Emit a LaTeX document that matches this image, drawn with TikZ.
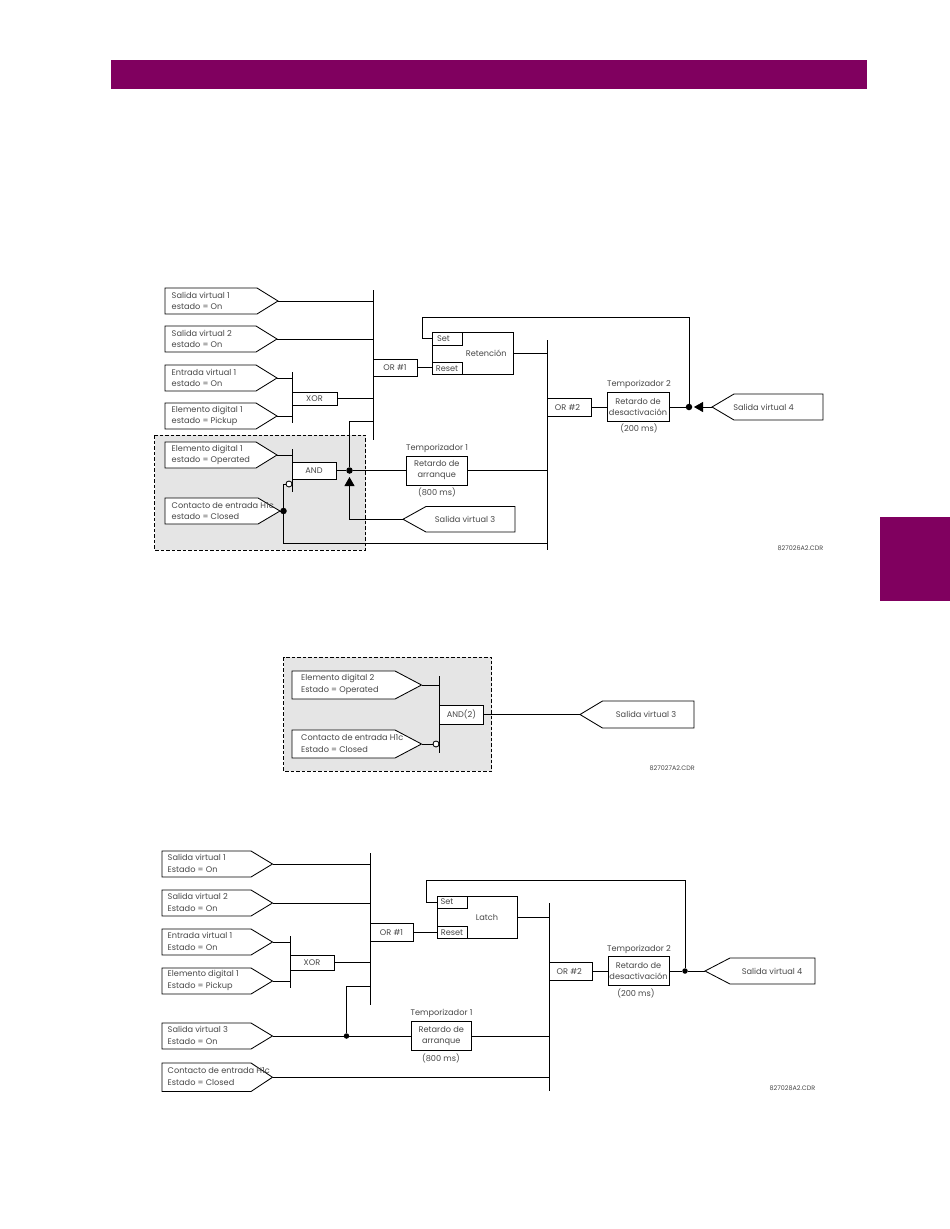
\documentclass[tikz,border=0pt]{standalone}
\usepackage{fontspec}
\setmainfont{Poppins}
\usetikzlibrary{arrows.meta,calc}
\definecolor{ge}{HTML}{80005F}
\definecolor{txt}{HTML}{484848}
\definecolor{shade}{HTML}{E5E5E5}
\def\flagskip{11}
\def\flaginset{6.5}
\tikzset{
  wire/.style={line width=0.85pt,black},
  busbar/.style={line width=1pt,black},
  lbl/.style={font=\fontsize{8.2}{11}\selectfont,text=txt,inner sep=0pt,align=center},
  code/.style={font=\fontsize{6.4}{7}\selectfont,text=txt,inner sep=0pt,anchor=east},
  gatebox/.style={draw=black,line width=0.85pt,fill=white,inner sep=0pt,outer sep=0pt,text=txt,font=\fontsize{8.2}{11}\selectfont,align=center},
  flag/.style={draw=black,line width=0.85pt,fill=white,line join=miter},
  flagtext/.style={font=\fontsize{8.2}{\flagskip}\selectfont,text=txt,inner sep=0pt,anchor=west,align=left},
  dotj/.style={circle,fill=black,inner sep=0pt,minimum size=6.5pt},
  bubble/.style={circle,draw=black,line width=0.85pt,fill=white,inner sep=0pt,minimum size=6pt},
  region/.style={draw=black,dashed,line width=0.8pt,fill=shade,dash pattern=on 3.5pt off 2pt},
  head/.style={-{Triangle[length=9pt,width=10pt]}}
}
% box by corners: name,x1,y1,x2,y2,text
\newcommand{\bx}[6]{\node[gatebox,minimum width=#4pt-#2pt,minimum height=#5pt-#3pt] (#1) at ({(#2+#4)/2},{(#3+#5)/2}) {#6};}
% input flag: name,xleft,ytop,ybot,xshoulder,xtip,text
\newcommand{\inflag}[7]{\draw[flag] (#2,#3)--(#5,#3)--(#6,{(#3+#4)/2})--(#5,#4)--(#2,#4)--cycle;
  \coordinate (#1-tip) at (#6,{(#3+#4)/2});
  \node[flagtext] (#1) at (#2+\flaginset,{(#3+#4)/2-0.5}) {#7};}
% output flag: name,xtip,xshoulder,xright,ytop,ybot,text,textcentre
\newcommand{\outflag}[8]{\draw[flag] (#2,{(#5+#6)/2})--(#3,#5)--(#4,#5)--(#4,#6)--(#3,#6)--cycle;
  \coordinate (#1-tip) at (#2,{(#5+#6)/2});
  \node[lbl] (#1) at (#8,{(#5+#6)/2}) {#7};}
\begin{document}
\begin{tikzpicture}[x=1pt,y=-1pt]
\useasboundingbox (0,0) rectangle (950,1229);
\fill[white] (0,0) rectangle (950,1229);
\fill[ge] (111,60) rectangle (867,89);
\fill[ge] (880,517) rectangle (950,601);

%%% ---------- Diagram 1 ----------
\draw[region] (154.5,435) rectangle (365.5,550);
\inflag{a1}{165}{288}{314}{257}{278}{Salida virtual 1\\estado = On}
\inflag{a2}{165}{326}{352}{256}{277}{Salida virtual 2\\estado = On}
\inflag{a3}{165}{365}{391}{256}{277}{Entrada virtual 1\\estado = On}
\inflag{a4}{165}{403}{429}{256}{277}{Elemento digital 1\\estado = Pickup}
\inflag{a5}{165}{442}{468}{256}{277}{Elemento digital 1\\estado = Operated}
\inflag{a6}{165}{498}{524}{258}{280}{Contacto de entrada H1c\\estado = Closed}
\outflag{a7}{403}{426}{515}{506.5}{532}{Salida virtual 3}{465}
\outflag{a8}{712}{734}{823}{394}{420}{Salida virtual 4}{763.5}

\coordinate (aor1t) at (373,290); \coordinate (aor1b) at (373,440);
\coordinate (aor2t) at (547,340); \coordinate (aor2b) at (547,550);
\coordinate (axort) at (292,372); \coordinate (axorb) at (292,423);
\coordinate (aandt) at (292,449); \coordinate (aandb) at (292,492);
\draw[busbar] (aor1t)--(aor1b) (aor2t)--(aor2b) (axort)--(axorb) (aandt)--(aandb);

\bx{aor1}{373}{359}{417}{376.5}{OR \#1}
\bx{aor2}{547}{398}{591}{416}{\hspace*{-3pt}OR \#2}
\bx{axor}{292}{392}{337}{405}{XOR}
\bx{aand}{292}{462}{336}{479}{AND}
\bx{aret}{432}{332}{513.5}{374.5}{\hspace*{27pt}Retención}
\bx{aset}{432}{332}{462}{345}{\hspace*{-7pt}Set}
\bx{arst}{432}{362}{462}{374.5}{Reset}
\bx{at1}{406}{456}{467.5}{485}{Retardo de\\arranque}
\bx{at2}{607}{392.5}{669}{421.5}{Retardo de\\desactivación}
\node[lbl] (at1a) at (437,448) {Temporizador 1};
\node[lbl] (at1b) at (437,492) {(800 ms)};
\node[lbl] (at2a) at (639,384) {Temporizador 2};
\node[lbl] (at2b) at (639,428) {(200 ms)};
\node[code] (acode) at (823.5,548) {827026A2.CDR};

\node[dotj] (adot1) at (349.5,470.5) {};
\node[dotj] (adot2) at (283.5,511) {};
\node[dotj] (adot3) at (689,407) {};
\node[bubble] (abub) at (289,484) {};
\coordinate (aupt) at (349.5,477);
\coordinate (alft) at (694,407);
\coordinate (afb1) at (422,317);

\draw[wire] (a1-tip)--(a1-tip -| aor1t);
\draw[wire] (a2-tip)--(a2-tip -| aor1t);
\draw[wire] (a3-tip)--(a3-tip -| axort);
\draw[wire] (a4-tip)--(a4-tip -| axort);
\draw[wire] (axor.east)--(axor.east -| aor1t);
\draw[wire] (a5-tip)--(a5-tip -| aandt);
\draw[wire] (a6-tip)--(adot2);
\draw[wire] (aand.east)--(adot1);
\draw[wire] (adot1)--(at1.west);
\draw[wire] (at1.east)--(at1.east -| aor2t);
\draw[wire] (adot1)--(349.5,421)--(349.5,421 -| aor1t);
\draw[wire,head] (a7-tip)-|(aupt);
\draw[wire] (abub.west)-|(adot2);
\draw[wire] (adot2)|-(547,543);
\draw[wire] (aor1.east)--(aor1.east -| arst.west);
\draw[wire] (aret.east |- 0,353)--(aor2t |- 0,353);
\draw[wire] (aor2.east)--(at2.west |- aor2.east);
\draw[wire] (at2.east |- adot3)--(adot3);
\draw[wire,head] (a8-tip)--(alft);
\draw[wire] (aset.west)-|(afb1)-|(adot3);

%%% ---------- Diagram 2 ----------
\def\flagskip{12}
\def\flaginset{9}
\draw[region] (283.5,657) rectangle (491.5,771);
\inflag{b1}{292}{671}{699}{395}{421.5}{Elemento digital 2\\Estado = Operated}
\inflag{b2}{292}{730}{758}{395}{421.5}{Contacto de entrada H1c\\Estado = Closed}
\outflag{b3}{580}{602.5}{694}{701}{728}{Salida virtual 3}{646}
\coordinate (bandt) at (439.5,676); \coordinate (bandb) at (439.5,753);
\draw[busbar] (bandt)--(bandb);
\bx{band}{439.5}{705}{483.5}{724}{AND(2)}
\node[bubble] (bbub) at (436,744) {};
\draw[wire] (b1-tip)--(b1-tip -| bandt);
\draw[wire] (b2-tip)--(bbub.west);
\draw[wire] (band.east)--(b3-tip);
\node[code] (bcode) at (695,768) {827027A2.CDR};

%%% ---------- Diagram 3 ----------
\def\flaginset{5.5}
\inflag{c1}{162}{851}{877}{251}{272.5}{Salida virtual 1\\Estado = On}
\inflag{c2}{162}{890}{916}{251}{272.5}{Salida virtual 2\\Estado = On}
\inflag{c3}{162}{929}{955}{251}{272.5}{Entrada virtual 1\\Estado = On}
\inflag{c4}{162}{968}{994}{251}{272.5}{Elemento digital 1\\Estado = Pickup}
\inflag{c5}{162}{1023}{1049}{251}{272.5}{Salida virtual 3\\Estado = On}
\inflag{c6}{162}{1063}{1091.5}{251}{272.5}{Contacto de entrada H1c\\Estado = Closed}
\outflag{c7}{705}{730}{815}{958}{984}{Salida virtual 4}{772}

\coordinate (cor1t) at (370,853); \coordinate (cor1b) at (370,1005);
\coordinate (cor2t) at (549.5,903); \coordinate (cor2b) at (549.5,1091);
\coordinate (cxort) at (290,936); \coordinate (cxorb) at (290,988);
\draw[busbar] (cor1t)--(cor1b) (cor2t)--(cor2b) (cxort)--(cxorb);

\bx{cor1}{370}{923.5}{413}{941.5}{OR \#1}
\bx{cor2}{549.5}{962}{592}{980}{\hspace*{-3pt}OR \#2}
\bx{cxor}{290}{955}{334}{970}{XOR}
\bx{cret}{437}{896}{517}{938.5}{\hspace*{20pt}Latch}
\bx{cset}{437}{896}{467}{908}{\hspace*{-10pt}Set}
\bx{crst}{437}{926}{467}{938.5}{Reset}
\bx{ct1}{411}{1021.5}{471.5}{1050.5}{Retardo de\\arranque}
\bx{ct2}{608}{956.5}{669}{985.5}{Retardo de\\desactivación}
\node[lbl] (ct1a) at (441.5,1013) {Temporizador 1};
\node[lbl] (ct1b) at (441,1058) {(800 ms)};
\node[lbl] (ct2a) at (639,949) {Temporizador 2};
\node[lbl] (ct2b) at (636,993) {(200 ms)};
\node[code] (ccode) at (815.5,1088.5) {827028A2.CDR};

\node[dotj,minimum size=5.5pt] (cdot1) at (346.5,1036) {};
\node[dotj,minimum size=5.5pt] (cdot2) at (685,971) {};
\coordinate (cfb1) at (426,880.5);

\draw[wire] (c1-tip)--(c1-tip -| cor1t);
\draw[wire] (c2-tip)--(c2-tip -| cor1t);
\draw[wire] (c3-tip)--(c3-tip -| cxort);
\draw[wire] (c4-tip)--(c4-tip -| cxort);
\draw[wire] (cxor.east)--(cxor.east -| cor1t);
\draw[wire] (c5-tip)--(cdot1);
\draw[wire] (cdot1)--(ct1.west);
\draw[wire] (ct1.east)--(ct1.east -| cor2t);
\draw[wire] (cdot1)--(346.5,986)--(346.5,986 -| cor1t);
\draw[wire] (c6-tip)--(c6-tip -| cor2t);
\draw[wire] (cor1.east)--(cor1.east -| crst.west);
\draw[wire] (cret.east |- 0,917)--(cor2t |- 0,917);
\draw[wire] (cor2.east)--(ct2.west |- cor2.east);
\draw[wire] (ct2.east |- cdot2)--(cdot2);
\draw[wire] (cdot2)--(c7-tip);
\draw[wire] (cset.west)-|(cfb1)-|(cdot2);
\end{tikzpicture}
\end{document}
